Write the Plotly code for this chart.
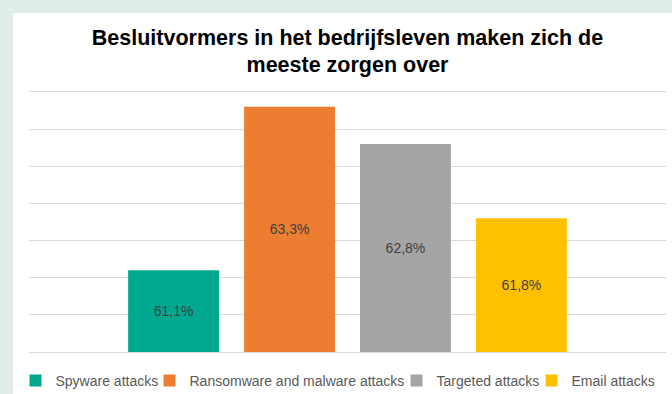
import plotly.graph_objects as go

series = ["Spyware attacks", "Ransomware and malware attacks", "Targeted attacks", "Email attacks"]
values = [61.1, 63.3, 62.8, 61.8]
colors = ["#00A88F", "#ED7D31", "#A5A5A5", "#FFC000"]
axis_min = 60
axis_max = 63.5
legend_widths = [89, 202, 90, 88]

W, H = 672, 394
L, R, T, B = 29, 6, 92, 42

fig = go.Figure()
for name, v, c, lw in zip(series, values, colors, legend_widths):
    fig.add_trace(go.Bar(
        x=[""], y=[v - axis_min], base=axis_min, name=name,
        marker=dict(color=c, line=dict(width=0)),
        customdata=[v],
        texttemplate="%{customdata:.1f}%", textposition="inside",
        insidetextanchor="middle",
        textfont=dict(family="Liberation Sans, Arial", size=14, color="#404040"),
        legendwidth=lw,
        hoverinfo="skip",
    ))

pw = W - L - R
ph = H - T - B
fig.add_shape(type="rect", xref="paper", yref="paper",
              x0=(12 - L) / pw, x1=(W - L) / pw + 0.01,
              y0=-B / ph - 0.01, y1=(H - B - 12) / ph,
              fillcolor="white", line=dict(color="#D6DEDB", width=1), layer="below")

fig.update_layout(
    width=W, height=H,
    margin=dict(l=L, r=R, t=T, b=B, autoexpand=False),
    paper_bgcolor="#DFEEEA", plot_bgcolor="white",
    separators=",.",
    barmode="group", bargap=0.272, bargroupgap=0.216,
    title=dict(text="Besluitvormers in het bedrijfsleven maken zich de<br>meeste zorgen over",
               x=0.5, xref="paper", xanchor="center",
               y=1 - 44.5 / H, yref="container", yanchor="middle",
               font=dict(family="Liberation Sans, Arial", size=21.5, color="#000000", weight="bold")),
    xaxis=dict(showticklabels=False, showgrid=False, zeroline=False,
               showline=True, mirror=True, linecolor="#D9D9D9", linewidth=1, fixedrange=True),
    yaxis=dict(range=[axis_min, axis_max], dtick=0.5, tick0=axis_min, showticklabels=False,
               showgrid=True, gridcolor="#D9D9D9", gridwidth=1, zeroline=False, showline=False, ticks=""),
    showlegend=True,
    legend=dict(orientation="h", x=(15.5 - L) / pw, xanchor="left", y=-(381 - (H - B)) / ph, yanchor="middle",
                font=dict(family="Liberation Sans, Arial", size=14, color="#595959"),
                bgcolor="rgba(0,0,0,0)", traceorder="normal"),
)

fig.write_html("out.html")
